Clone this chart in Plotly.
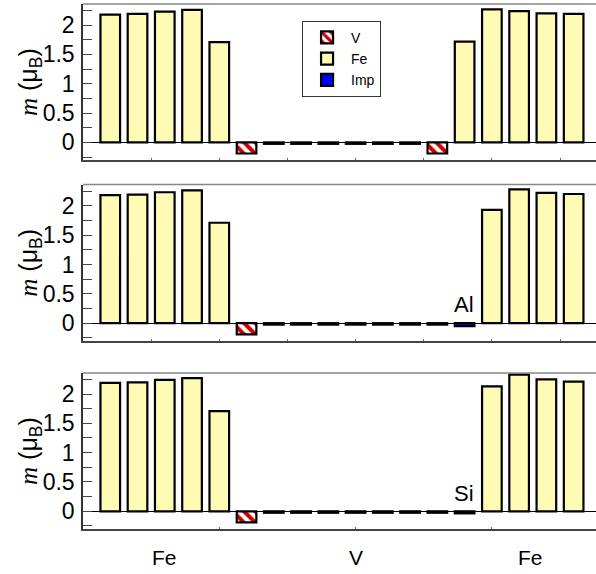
import plotly.graph_objects as go

# ---------------- data ----------------
positions = list(range(1, 19))

top_species = ["Fe"] * 5 + ["V"] * 8 + ["Fe"] * 5
top_m = [2.18, 2.19, 2.23, 2.26, 1.71,
         -0.19, -0.025, -0.025, -0.025, -0.025, -0.025, -0.025, -0.19,
         1.72, 2.27, 2.24, 2.20, 2.19]

mid_species = ["Fe"] * 5 + ["V"] * 8 + ["Imp"] + ["Fe"] * 4
mid_m = [2.18, 2.19, 2.23, 2.26, 1.71,
         -0.19, -0.025, -0.025, -0.025, -0.025, -0.025, -0.025, -0.025,
         -0.05,
         1.93, 2.28, 2.22, 2.20]

bot_species = ["Fe"] * 5 + ["V"] * 8 + ["Imp"] + ["Fe"] * 4
bot_m = [2.19, 2.20, 2.24, 2.27, 1.71,
         -0.19, -0.025, -0.025, -0.025, -0.025, -0.025, -0.025, -0.025,
         -0.035,
         2.13, 2.33, 2.25, 2.21]

panel_imp_labels = ["", "Al", "Si"]
region_labels = ["Fe", "V", "Fe"]
region_label_x = [3, 10, 16.4]
species_order = ["V", "Fe", "Imp"]

# ---------------- styling ----------------
FONT = "Arial, Liberation Sans, sans-serif"
styles = {
    "V": dict(color="white", pattern=dict(shape="\\", fgcolor="#cc0000", bgcolor="white",
                                          size=8, solidity=0.5, fillmode="replace")),
    "Fe": dict(color="#FFFAB4"),
    "Imp": dict(color="#0000FF"),
}

fig = go.Figure()
panels = [(top_species, top_m), (mid_species, mid_m), (bot_species, bot_m)]
axis_ids = ["", "2", "3"]

shown = set()
for sp in species_order:
    for p, (species, vals) in enumerate(panels):
        xs = [x for x, s in zip(positions, species) if s == sp]
        ys = [v for v, s in zip(vals, species) if s == sp]
        if not xs:
            continue
        st = styles[sp]
        marker = dict(color=st["color"], line=dict(color="black", width=2.2))
        if "pattern" in st:
            marker["pattern"] = st["pattern"]
        fig.add_trace(go.Bar(
            x=xs, y=ys, name=sp, width=0.72, marker=marker,
            legendgroup=sp, showlegend=(sp not in shown),
            xaxis="x" + axis_ids[p], yaxis="y" + axis_ids[p],
        ))
        shown.add(sp)

# panel geometry (paper fractions)
domains = [[0.7027, 1.0], [0.3583, 0.656], [0.0, 0.2973]]
xrange_ = [0, 18.82]
yrange_ = [-0.302, 2.36]

layout = dict(
    width=596, height=574,
    margin=dict(l=83, r=0, t=4, b=45),
    paper_bgcolor="white", plot_bgcolor="white",
    barmode="overlay",
    font=dict(family=FONT, size=20, color="black"),
    showlegend=True,
    legend=dict(x=0.427, y=0.968, xanchor="left", yanchor="top",
                bordercolor="#333333", borderwidth=1, bgcolor="white",
                font=dict(family=FONT, size=14), traceorder="normal",
                itemwidth=38, tracegroupgap=0),
)

shapes = []
annotations = []
for p in range(3):
    xa = "xaxis" + axis_ids[p]
    ya = "yaxis" + axis_ids[p]
    xr = "x" + axis_ids[p]
    yr = "y" + axis_ids[p]
    layout[xa] = dict(
        domain=[0, 1], range=xrange_, anchor=yr,
        showline=True, linecolor="#444444", linewidth=1.5, mirror=False,
        ticks="inside", ticklen=2, tickcolor="#666666",
        tick0=0, dtick=(5 if p == 2 else 2.5),
        showticklabels=False, showgrid=False, zeroline=False,
    )
    layout[ya] = dict(
        domain=domains[p], range=yrange_, anchor=xr,
        showline=True, linecolor="#333333", linewidth=1.5, mirror=False,
        ticks="inside", ticklen=9, tickcolor="#444444",
        tickvals=[0, 0.5, 1, 1.5, 2], ticktext=["0", "0.5", "1", "1.5", "2"],
        minor=dict(ticks="inside", ticklen=9, tickcolor="#444444",
                   tickvals=[-0.25, 0.25, 0.75, 1.25, 1.75, 2.25]),
        tickfont=dict(family=FONT, size=23, color="black"),
        ticklabelstandoff=2,
        showgrid=False,
        zeroline=True, zerolinecolor="black", zerolinewidth=1,
    )
    # top frame line
    shapes.append(dict(type="line", xref=xr + " domain", yref=yr + " domain",
                       x0=0, x1=1, y0=1, y1=1,
                       line=dict(color="#888888", width=1.5)))
    # y-axis title
    annotations.append(dict(
        text='<span style="font-family:Liberation Serif, Times New Roman, serif"><i>m</i></span> (μ<sub>B</sub>)',
        xref="paper", yref=yr + " domain", x=-0.1034, y=0.5,
        xanchor="center", yanchor="middle", textangle=-90, showarrow=False,
        font=dict(family=FONT, size=25, color="black")))
    if panel_imp_labels[p]:
        annotations.append(dict(
            text=panel_imp_labels[p], xref=xr, yref=yr, x=14.42, y=0.31,
            xanchor="right", yanchor="middle", showarrow=False,
            font=dict(family=FONT, size=22, color="black")))

for lbl, xv in zip(region_labels, region_label_x):
    annotations.append(dict(text=lbl, xref="x3", yref="paper", x=xv, y=-0.0549,
                            xanchor="center", yanchor="middle", showarrow=False,
                            font=dict(family=FONT, size=21, color="black")))

layout["shapes"] = shapes
layout["annotations"] = annotations
fig.update_layout(**layout)

fig.write_html("out.html")
